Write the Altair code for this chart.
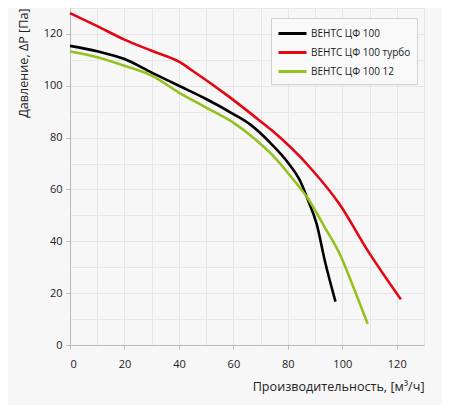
import altair as alt
import pandas as pd

series_names = ["ВЕНТС ЦФ 100", "ВЕНТС ЦФ 100 турбо", "ВЕНТС ЦФ 100 12"]
series_colors = ["#000000", "#e30613", "#95c11f"]

black_x = [0, 10, 20, 30, 40, 50, 60, 66, 74, 80, 84.5, 87.5, 90.6, 93.6, 97.5]
black_y = [115.4, 113.3, 110.3, 105.1, 100, 94.9, 89.1, 85.2, 77.5, 70.4, 63.3, 55.6, 46.6, 32.4, 16.7]

red_x = [0, 10, 20, 30, 40, 45, 58, 69, 74, 88.7, 99, 109.4, 121.5]
red_y = [128, 123, 117.8, 113.5, 109.3, 105.8, 96.1, 87.1, 82.9, 67.8, 54.3, 36.3, 17.6]

green_x = [0, 10, 20, 30, 40, 50, 60, 68, 74, 81.4, 87.5, 93.6, 99.1, 103.9, 109.3]
green_y = [113.2, 111, 107.7, 103.9, 97.4, 91.6, 85.8, 79.4, 73.6, 64.6, 56.3, 45.3, 35, 22.8, 8.2]

rows = []
for name, xs, ys in zip(series_names, [black_x, red_x, green_x], [black_y, red_y, green_y]):
    for i, (xv, yv) in enumerate(zip(xs, ys)):
        rows.append({"series": name, "x": xv, "y": yv, "order": i})
df = pd.DataFrame(rows)

FONT = "Open Sans"
every10 = list(range(0, 131, 10))

chart = alt.Chart(df).mark_line(strokeWidth=2.6, interpolate="monotone").encode(
    x=alt.X("x:Q", scale=alt.Scale(domain=[0, 130], nice=False),
            axis=alt.Axis(values=every10, title="Производительность, [м³/ч]",
                          labelExpr="datum.value % 20 == 0 ? datum.label : ''",
                          tickOpacity={"condition": {"test": "datum.value % 20 != 0 || datum.value > 120", "value": 0}, "value": 1},
                          titleAnchor="end", titleAlign="right", titleFontWeight="normal",
                          titleFontSize=12.6, titleColor="#222", titlePadding=11,
                          labelFontSize=11, labelColor="#222", labelPadding=9,
                          tickSize=4, tickColor="#bbbbbb", domainColor="#bbbbbb",
                          gridColor="#e6e6e6", labelFont=FONT, titleFont=FONT)),
    y=alt.Y("y:Q", scale=alt.Scale(domain=[0, 130], nice=False),
            axis=alt.Axis(values=every10, title="Давление, ΔP [Па]",
                          labelExpr="datum.value % 20 == 0 ? datum.label : ''",
                          tickOpacity={"condition": {"test": "datum.value % 20 != 0 || datum.value > 120", "value": 0}, "value": 1},
                          titleAnchor="end", titleFontWeight="normal",
                          titleFontSize=12.6, titleColor="#222", titlePadding=13,
                          labelFontSize=11, labelColor="#222", labelPadding=4,
                          tickSize=4, tickColor="#bbbbbb", domainColor="#bbbbbb",
                          gridColor="#e6e6e6", labelFont=FONT, titleFont=FONT)),
    color=alt.Color("series:N",
                    scale=alt.Scale(domain=series_names, range=series_colors),
                    legend=alt.Legend(title=None, orient="none", legendX=201, legendY=10,
                                      symbolType="M-1,0H2.5", symbolStrokeWidth=3,
                                      symbolSize=256, labelFontSize=10, labelFont=FONT,
                                      labelColor="#222", labelOffset=15, rowPadding=3,
                                      padding=6, fillColor="#f9f9f9", strokeColor="#d0d0d0")),
    order="order:Q",
).properties(
    width=354, height=337, background="#f7f7f7",
    autosize=alt.AutoSizeParams(type="none"),
    padding={"left": 62, "top": 0, "right": 18, "bottom": 60},
).configure_view(stroke="#e0e0e0")

chart.save("out.html", embed_options={"renderer": "svg", "actions": False})
